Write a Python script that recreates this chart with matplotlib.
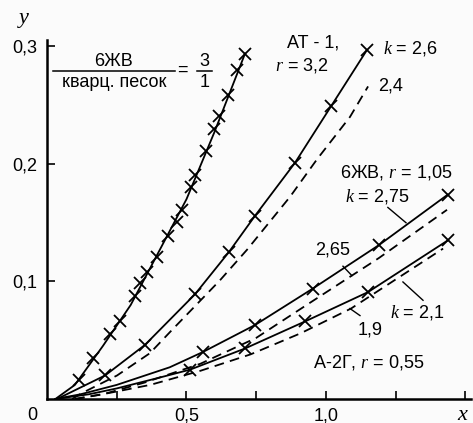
import matplotlib
matplotlib.use('Agg')
import matplotlib.pyplot as plt

plt.rcParams['font.family'] = ['Liberation Sans', 'DejaVu Sans']
plt.rcParams['mathtext.fontset'] = 'custom'
plt.rcParams['mathtext.it'] = 'Liberation Serif:italic'
plt.rcParams['mathtext.rm'] = 'Liberation Sans'
plt.rcParams['lines.scale_dashes'] = False

# 6ZhV / quartz sand = 3/1 : smooth line and measured points
c1_line_x = [0.03, 0.10, 0.20, 0.30, 0.40, 0.50, 0.60, 0.71]
c1_line_y = [0.0, 0.012, 0.045, 0.080, 0.125, 0.170, 0.227, 0.294]
c1_pts_x = [0.115, 0.165, 0.226, 0.262, 0.315, 0.333, 0.358, 0.394, 0.434, 0.466,
            0.484, 0.516, 0.530, 0.570, 0.599, 0.616, 0.649, 0.681, 0.710]
c1_pts_y = [0.016, 0.035, 0.055, 0.066, 0.088, 0.099, 0.108, 0.121, 0.139, 0.151,
            0.161, 0.180, 0.191, 0.211, 0.230, 0.241, 0.259, 0.280, 0.294]

# AT-1, r = 3,2
at1_x = [0.036, 0.208, 0.351, 0.530, 0.652, 0.746, 0.889, 1.018, 1.147]
at1_y = [0.0, 0.020, 0.046, 0.089, 0.125, 0.156, 0.201, 0.249, 0.297]
at1_calc_x = [0.09, 0.125, 0.251, 0.369, 0.441, 0.620, 0.717, 0.871, 0.968, 1.086, 1.151]
at1_calc_y = [0.0, 0.005, 0.020, 0.039, 0.057, 0.101, 0.127, 0.172, 0.204, 0.240, 0.266]

# 6ZhV, r = 1,05
zv_x = [0.03, 0.12, 0.25, 0.44, 0.559, 0.746, 0.953, 1.190, 1.437]
zv_y = [0.0, 0.004, 0.012, 0.027, 0.040, 0.063, 0.094, 0.131, 0.174]
zv_calc_x = [0.10, 0.20, 0.35, 0.55, 0.75, 0.95, 1.19, 1.434]
zv_calc_y = [0.0, 0.004, 0.014, 0.030, 0.052, 0.083, 0.120, 0.161]

# A-2G, r = 0,55
a2_x = [0.03, 0.15, 0.25, 0.40, 0.513, 0.710, 0.925, 1.151, 1.437]
a2_y = [0.0, 0.004, 0.009, 0.018, 0.025, 0.043, 0.066, 0.091, 0.135]
a2_calc_x = [0.10, 0.22, 0.37, 0.55, 0.73, 0.91, 1.09, 1.42]
a2_calc_y = [0.0, 0.005, 0.012, 0.024, 0.038, 0.056, 0.077, 0.128]

xticks = [0.25, 0.5, 0.75, 1.0, 1.25, 1.5]
xtick_labels = ['', '0,5', '', '1,0', '', '']
yticks = [0.1, 0.2, 0.3]
ytick_labels = ['0,1', '0,2', '0,3']

fig = plt.figure(figsize=(4.73, 4.23), dpi=100)
fig.patch.set_facecolor('#fbfbfb')
ax = fig.add_axes([47/473, 24/423, 424/473, 359/423])
ax.set_facecolor('#fbfbfb')
ax.set_xlim(0, 1.52)
ax.set_ylim(0, 0.3055)

lw = 1.3
mk = dict(marker='x', markersize=8, markeredgewidth=1.3, color='k')
dash = dict(color='k', lw=lw, dashes=(7, 4.5))

ax.plot(c1_line_x, c1_line_y, color='k', lw=lw)
ax.plot(c1_pts_x, c1_pts_y, ls='none', **mk)

ax.plot(at1_x, at1_y, lw=lw, markevery=list(range(1, len(at1_x))), **mk)
ax.plot(at1_calc_x, at1_calc_y, **dash)

ax.plot(zv_x, zv_y, lw=lw, markevery=list(range(4, len(zv_x))), **mk)
ax.plot(zv_calc_x, zv_calc_y, **dash)

ax.plot(a2_x, a2_y, lw=lw, markevery=list(range(4, len(a2_x))), **mk)
ax.plot(a2_calc_x, a2_calc_y, **dash)

for s in ['top', 'right']:
    ax.spines[s].set_visible(False)
for s in ['left', 'bottom']:
    ax.spines[s].set_linewidth(1.8)

ax.set_xticks(xticks)
ax.set_xticklabels(xtick_labels)
ax.set_yticks(yticks)
ax.set_yticklabels(ytick_labels)
ax.tick_params(axis='both', direction='in', length=6, width=1.2, labelsize=13)
ax.tick_params(axis='y', pad=7)
ax.tick_params(axis='x', pad=6)

fs = 13
# ratio label
ax.text(0.240, 0.287, '6ЖВ', fontsize=fs, ha='center', va='center')
ax.text(0.240, 0.2695, 'кварц. песок', fontsize=fs, ha='center', va='center')
ax.plot([0.022, 0.459], [0.2795, 0.2795], color='k', lw=1.1)
ax.text(0.487, 0.2795, '=', fontsize=fs, ha='center', va='center')
ax.text(0.564, 0.287, '3', fontsize=fs, ha='center', va='center')
ax.text(0.564, 0.2695, '1', fontsize=fs, ha='center', va='center')
ax.plot([0.538, 0.591], [0.2795, 0.2795], color='k', lw=1.1)

ax.text(0.860, 0.303, 'АТ - 1,', fontsize=fs, ha='left', va='center')
ax.text(0.817, 0.284, '$r$ = 3,2', fontsize=fs, ha='left', va='center')
ax.text(1.204, 0.298, '$k$ = 2,6', fontsize=fs, ha='left', va='center')
ax.text(1.186, 0.266, '2,4', fontsize=fs, ha='left', va='center')

ax.text(1.050, 0.193, '6ЖВ, $r$ = 1,05', fontsize=fs, ha='left', va='center')
ax.text(1.068, 0.172, '$k$ = 2,75', fontsize=fs, ha='left', va='center')
ax.plot([1.222, 1.287], [0.163, 0.150], color='k', lw=1.0)
ax.text(0.961, 0.127, '2,65', fontsize=fs, ha='left', va='center')
ax.plot([1.061, 1.093], [0.113, 0.105], color='k', lw=1.0)

ax.text(1.229, 0.074, '$k$ = 2,1', fontsize=fs, ha='left', va='center')
ax.plot([1.276, 1.348], [0.0996, 0.084], color='k', lw=1.0)
ax.text(1.115, 0.059, '1,9', fontsize=fs, ha='left', va='center')
ax.plot([1.086, 1.122], [0.077, 0.071], color='k', lw=1.0)
ax.text(0.953, 0.031, 'А-2Г, $r$ = 0,55', fontsize=fs, ha='left', va='center')

fig.text(32/473, 1 - 415/423, '0', fontsize=13, ha='center', va='center')
fig.text(24/473, 1 - 20/423, '$y$', fontsize=16, ha='center', va='center')
fig.text(463/473, 1 - 414/423, '$x$', fontsize=16, ha='center', va='center')

fig.savefig('out.png', dpi=100, facecolor=fig.get_facecolor())
